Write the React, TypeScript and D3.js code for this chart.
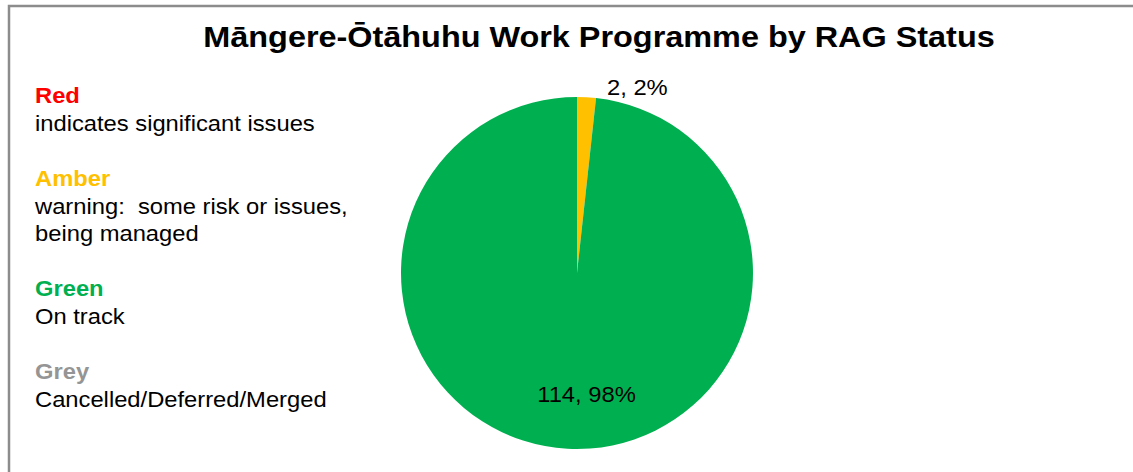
import { useEffect, useRef } from 'react'
import * as d3 from 'd3'

const categories = ['Red', 'Amber', 'Green', 'Grey']
const counts = [0, 2, 114, 0]
const percents = ['0%', '2%', '98%', '0%']
const colors = ['#FF0000', '#FFC000', '#00B050', '#959595']
const descriptions = [
  ['indicates significant issues'],
  ['warning:  some risk or issues,', 'being managed'],
  ['On track'],
  ['Cancelled/Deferred/Merged'],
]
const title = 'Māngere-Ōtāhuhu Work Programme by RAG Status'

const W = 1133
const H = 472
// the reference text is drawn slightly wide
const SX = 1.08

export default function App() {
  const svgRef = useRef<SVGSVGElement>(null)

  useEffect(() => {
    if (!svgRef.current) return
    const svg = d3.select(svgRef.current)
    svg.selectAll('*').remove()
    const font = 'Liberation Sans, Arial, sans-serif'

    const label = (x: number, y: number, txt: string, size: number, opts: { bold?: boolean; fill?: string; anchor?: string } = {}) =>
      svg.append('g')
        .attr('transform', `translate(${x},${y}) scale(${SX},1)`)
        .append('text')
        .attr('text-anchor', opts.anchor || 'start')
        .attr('font-family', font).attr('font-size', `${size}px`)
        .attr('font-weight', opts.bold ? 'bold' : 'normal')
        .attr('fill', opts.fill || '#000')
        .style('white-space', 'pre')
        .text(txt)

    // frame
    svg.append('rect')
      .attr('x', 9).attr('y', 6)
      .attr('width', W + 20).attr('height', H + 20)
      .attr('fill', 'white').attr('stroke', '#8c8c8c').attr('stroke-width', 2.5)

    label(599, 47, title, 30, { bold: true, anchor: 'middle' })

    // legend text block
    const headY = [103, 186, 296, 379]
    categories.forEach((c, i) => {
      label(35, headY[i], c, 22, { bold: true, fill: colors[i] })
      descriptions[i].forEach((line, j) => {
        label(35, headY[i] + 28 + j * 27, line, 22)
      })
    })

    const cx = 577
    const cy = 273
    const r = 176
    const data = categories.map((c, i) => ({ c, v: counts[i], pct: percents[i], color: colors[i] }))
    const pie = d3.pie<typeof data[number]>().sort(null).value((d) => d.v)
    const arcs = pie(data)
    const arc = d3.arc<d3.PieArcDatum<typeof data[number]>>().innerRadius(0).outerRadius(r)
    const g = svg.append('g').attr('transform', `translate(${cx},${cy})`)

    g.selectAll('path.slice')
      .data(arcs.filter((a) => a.data.v > 0))
      .enter().append('path')
      .attr('class', 'slice')
      .attr('d', arc)
      .attr('fill', (d) => d.data.color)

    const innerLabel = d3.arc<d3.PieArcDatum<typeof data[number]>>().innerRadius(120).outerRadius(120)
    const outerLabel = d3.arc<d3.PieArcDatum<typeof data[number]>>().innerRadius(185).outerRadius(185)

    arcs.filter((a) => a.data.v > 0).forEach((a) => {
      const small = a.endAngle - a.startAngle < 0.3
      const [x, y] = small ? outerLabel.centroid(a) : innerLabel.centroid(a)
      const txt = `${a.data.v}, ${a.data.pct}`
      if (small) label(cx + x + 20, cy + y + 7, txt, 22)
      else label(cx + x + 16, cy + y + 9, txt, 22, { anchor: 'middle' })
    })
  }, [])

  return (
    <svg ref={svgRef} width={W} height={H} style={{ position: 'absolute', left: 0, top: 0 }}></svg>
  )
}
